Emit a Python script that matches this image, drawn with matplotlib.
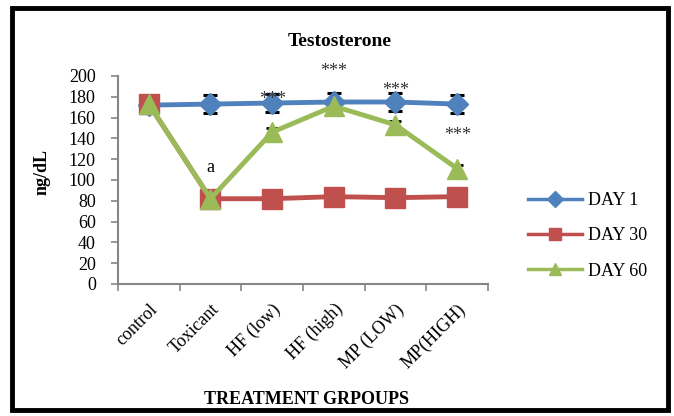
import matplotlib
matplotlib.use("Agg")
import matplotlib.pyplot as plt
from matplotlib.patches import Rectangle
import numpy as np

# data
groups = ["control", "Toxicant", "HF (low)", "HF (high)", "MP (LOW)", "MP(HIGH)"]
day1 = [172, 173, 174, 175, 175, 173]
day30 = [173, 82, 82, 84, 83, 84]
day60 = [173, 82, 146, 171, 153, 111]
err1 = [0, 9, 9, 9, 9, 9]
err30 = [0, 2, 2, 2, 2, 2]
err60 = [0, 3, 4, 3, 4, 3]
star_groups = [2, 3, 4, 5]
star_y = [177, 204, 186, 143]

plt.rcParams['font.family'] = ['Liberation Serif', 'DejaVu Serif']

fig = plt.figure(figsize=(6.74, 4.16), dpi=100)
ax = fig.add_axes([118/674, 1-284/416, (488-118)/674, (284-76)/416])

x = np.arange(len(groups))
blue, red, green = "#4F81BD", "#C0504D", "#9BBB59"

ax.errorbar(x, day1, yerr=err1, fmt='none', ecolor='black', elinewidth=1.5, capsize=5, capthick=2.2, zorder=2)
ax.errorbar(x, day30, yerr=err30, fmt='none', ecolor='black', elinewidth=1.5, capsize=4, capthick=2, zorder=2)
ax.errorbar(x, day60, yerr=err60, fmt='none', ecolor='black', elinewidth=1.5, capsize=4, capthick=2, zorder=2)
ax.plot(x, day1, color=blue, lw=3.5, marker='D', ms=11, label="DAY 1", zorder=3)
ax.plot(x, day30, color=red, lw=3.5, marker='s', ms=14, label="DAY 30", zorder=4)
ax.plot(x, day60, color=green, lw=3.5, marker='^', ms=15, label="DAY 60", zorder=5)

for g, yy in zip(star_groups, star_y):
    ax.text(g, yy, "***", ha='center', va='center', fontsize=13, color='#333333', zorder=6)
ax.text(1, 112, "a", ha='center', va='center', fontsize=13, zorder=6)

ax.set_xlim(-0.5, len(groups) - 0.5)
ax.set_ylim(0, 200)
ax.set_yticks(range(0, 201, 20))
ax.set_xticks(x)
ax.set_xticklabels(groups, rotation=45, ha='right', rotation_mode='anchor', fontsize=13)
ax.set_xticks(np.arange(-0.5, len(groups), 1), minor=True)
ax.tick_params(axis='x', which='major', length=0, pad=12)
ax.tick_params(axis='x', which='minor', length=5, color='#868686', width=1.2)
ax.tick_params(axis='y', length=5, color='#868686', width=1.2, labelsize=13, pad=11)

for s in ['top', 'right']:
    ax.spines[s].set_visible(False)
for s in ['left', 'bottom']:
    ax.spines[s].set_color('#868686')
    ax.spines[s].set_linewidth(1.5)

fig.text(340/674, 1-42/416, "Testosterone", ha='center', va='center', fontsize=14, fontweight='bold')
fig.text(42/674, 1-172/416, "ng/dL", ha='center', va='center', rotation=90, fontsize=13, fontweight='bold')
fig.text(307/674, 1-400/416, "TREATMENT GRPOUPS", ha='center', va='center', fontsize=13, fontweight='bold')

leg = fig.legend(loc='center left', bbox_to_anchor=(512/674, 1-236/416), frameon=False,
                 fontsize=13, handlelength=3.0, labelspacing=1.0, handletextpad=0.3)
for h in leg.legend_handles:
    h.set_linewidth(2.5)
    h.set_markersize(8)

fig.add_artist(Rectangle((12/674, 1-410/416), (668-12)/674, (410-8)/416,
                         transform=fig.transFigure, fill=False, edgecolor='black', lw=3.5))

fig.savefig("out.png", dpi=100)
